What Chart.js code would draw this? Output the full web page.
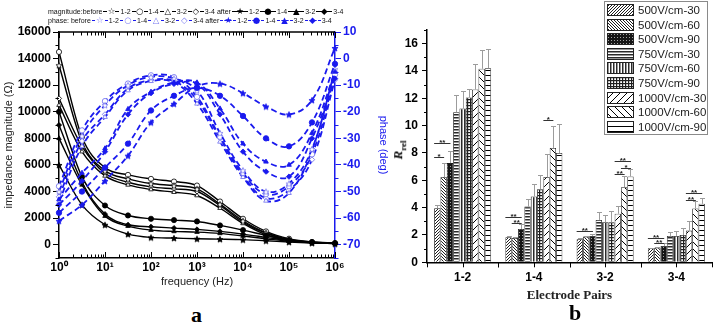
<!DOCTYPE html>
<html><head><meta charset="utf-8">
<script src="https://cdn.jsdelivr.net/npm/chart.js@4.4.1/dist/chart.umd.min.js"></script>
<style>
html,body{margin:0;padding:0;background:#fff}
body{position:relative;width:714px;height:324px;overflow:hidden;font-family:"Liberation Sans",Arial,sans-serif}
canvas{position:absolute}
#cA{left:0;top:0}
#cB{left:395px;top:0}
.lg{position:absolute;left:48px;font-size:7px;line-height:9px;white-space:nowrap;color:#111}
.s{display:inline-block;position:relative;width:16px;height:9px;vertical-align:top;margin:0 1px}
.s::before{content:'';position:absolute;left:0;right:0;top:4px;border-top:1px solid #000}
.s.p::before{border-top:1.4px dashed #1a1aee}
.s i{position:absolute;left:4px;width:8px;top:0;text-align:center;font-style:normal;font-size:8.5px;line-height:9px;font-family:"DejaVu Sans",sans-serif}
.big{position:absolute;font-family:"Liberation Serif","Times New Roman",serif;font-weight:bold;font-size:22px;line-height:22px}
#rrel{position:absolute;left:399px;top:150px;transform:translate(-50%,-50%) rotate(-90deg);font-family:"Liberation Serif",serif;font-size:13px;font-weight:bold;white-space:nowrap}
#legB{position:absolute;left:604px;top:1px;width:102px;height:132px;border:1px solid #8a8a8a;background:#fff}
#legB div{position:absolute;left:2px;height:13px;display:flex;align-items:center;font-size:11.5px;color:#222;white-space:nowrap}
#legB canvas{position:static;margin-right:4px}
</style></head>
<body>
<canvas id="cA" width="394" height="293"></canvas>
<canvas id="cB" width="319" height="307"></canvas>
<div class="lg" id="lg1" style="top:7px"></div>
<div class="lg" id="lg2" style="top:16px"></div>
<div class="big" style="left:191px;top:304px">a</div>
<div class="big" style="left:569px;top:302px">b</div>
<div id="rrel"><i>R</i><sub style="font-size:9px">rel</sub></div>
<div id="legB"></div>
<script>
// ---------- chart (a) data ----------
const freqHz = [1, 3.162, 10, 31.62, 100, 316.2, 1000, 3162, 10000, 31620, 100000, 316200, 1000000];
const decadeTicks = [1, 10, 100, 1000, 10000, 100000, 1000000];
const magTicks = [0, 2000, 4000, 6000, 8000, 10000, 12000, 14000, 16000];
const phaseTicks = [-70, -60, -50, -40, -30, -20, -10, 0, 10];

const magBefore12 = [13500, 7700, 5575, 4950, 4600, 4450, 4200, 3050, 1800, 900, 400, 180, 100];
const magBefore14 = [14500, 8100, 5800, 5250, 4950, 4750, 4450, 3250, 1950, 1000, 450, 200, 110];
const magBefore32 = [10500, 7000, 5175, 4500, 4150, 3950, 3700, 2750, 1600, 750, 300, 160, 90];
const magBefore34 = [11000, 7400, 5375, 4700, 4350, 4200, 4000, 2950, 1700, 850, 350, 170, 100];
const magAfter12 = [6000, 3000, 1500, 800, 550, 500, 450, 420, 380, 300, 200, 130, 90];
const magAfter14 = [10000, 5100, 2950, 2200, 1950, 1850, 1750, 1450, 1100, 700, 350, 200, 120];
const magAfter32 = [8000, 4500, 2150, 1400, 1100, 1000, 950, 850, 650, 450, 250, 150, 100];
const magAfter34 = [9000, 4700, 2300, 1500, 1350, 1250, 1150, 1000, 800, 550, 300, 180, 110];

const phBefore12 = [-50, -29, -17.5, -10, -6.9, -7.5, -12, -28, -42, -50, -47, -34, -4];
const phBefore14 = [-48, -27, -16, -9.4, -6.3, -7, -14.4, -29.4, -43, -51, -48, -36, -6];
const phBefore32 = [-54, -33, -22, -12, -8.5, -9, -17, -31.3, -44.6, -53.5, -50.6, -34.4, -4.4];
const phBefore34 = [-52, -31, -21, -11.3, -8.1, -8.5, -15.5, -30, -44, -52.5, -49.5, -38, -8];
const phAfter12 = [-61, -55, -46, -36.5, -24, -17, -10.5, -9.4, -13, -18, -21, -15.6, 4];
const phAfter14 = [-58, -50, -41, -32, -19.5, -14, -11, -14, -21.6, -30, -33, -24, -2];
const phAfter32 = [-53, -43, -33.8, -19, -12.5, -9, -9, -18.8, -32, -38.8, -40, -28, -5];
const phAfter34 = [-55, -46, -35, -21, -13, -9.5, -9.5, -21, -35, -42.5, -44.4, -30, -7.5];

// ---------- chart (b) data ----------
const pairs = ['1-2', '1-4', '3-2', '3-4'];
const conditions = ['500V/cm-30', '500V/cm-60', '500V/cm-90', '750V/cm-30', '750V/cm-60', '750V/cm-90', '1000V/cm-30', '1000V/cm-60', '1000V/cm-90'];
const rrel12 = [3.96, 6.24, 7.26, 10.98, 11.25, 12.06, 12.65, 14.16, 14.2];
const rrel14 = [1.83, 1.78, 2.44, 4.08, 4.82, 5.35, 6.24, 8.37, 8.0];
const rrel32 = [1.69, 1.88, 1.93, 3.1, 2.93, 2.93, 3.55, 5.5, 6.28];
const rrel34 = [1.03, 1.07, 1.2, 1.93, 1.93, 2.0, 2.32, 3.94, 4.28];
const sd12 = [0.24, 1.02, 0.86, 1.28, 1.27, 0.64, 1.83, 1.34, 1.4];
const sd14 = [0.07, 0.04, 0.35, 0.54, 0.92, 1.05, 1.66, 1.63, 2.15];
const sd32 = [0.06, 0.07, 0.15, 0.57, 0.54, 0.86, 0.58, 0.78, 0.54];
const sd34 = [0.05, 0.05, 0.19, 0.32, 0.37, 0.5, 0.71, 0.51, 0.42];
const rrelTicks = [0, 2, 4, 6, 8, 10, 12, 14, 16];
// significance brackets: pair index, first bar, last bar, level (R_rel), label
const sigPair  = [0, 0, 1, 1, 1, 2, 2, 2, 2, 3, 3, 3, 3];
const sigFrom  = [0, 0, 0, 1, 6, 0, 6, 7, 6, 0, 1, 6, 6];
const sigTo    = [1, 2, 2, 2, 7, 2, 8, 8, 7, 2, 2, 8, 7];
const sigLevel = [7.7, 8.7, 3.3, 2.9, 10.4, 2.3, 7.4, 6.9, 6.45, 1.8, 1.42, 5.1, 4.55];
const sigText  = ['*', '**', '**', '**', '*', '**', '**', '*', '**', '**', '**', '**', '**'];

// ---------- styling helpers ----------
const BLUE = '#1a1aee';
const BLUE_OPEN = '#7a7af0';
const SUP = ['\u2070', '\u00b9', '\u00b2', '\u00b3', '\u2074', '\u2075', '\u2076'];

function starCanvas(r, fill, stroke) {
  const s = Math.ceil(r * 2 + 3);
  const c = document.createElement('canvas'); c.width = c.height = s;
  const g = c.getContext('2d'); g.beginPath();
  for (let i = 0; i < 10; i++) {
    const a = -Math.PI / 2 + i * Math.PI / 5, rr = i % 2 ? r * 0.45 : r;
    g.lineTo(s / 2 + rr * Math.cos(a), s / 2 + rr * Math.sin(a) + 0.5);
  }
  g.closePath(); g.fillStyle = fill; g.fill(); g.lineWidth = 0.8; g.strokeStyle = stroke; g.stroke();
  return c;
}

function pts(values) { return freqHz.map((f, i) => ({ x: f, y: values[i] })); }

function magSet(label, values, style, filled) {
  return {
    label, data: pts(values), yAxisID: 'y', borderColor: '#000', borderWidth: 1.4,
    pointStyle: style === 'star' ? starCanvas(3.2, filled ? '#000' : '#fff', '#000') : style,
    pointRadius: 2.6, pointBackgroundColor: filled ? '#000' : '#fff', pointBorderColor: '#000', pointBorderWidth: 0.8,
    cubicInterpolationMode: 'monotone', fill: false, clip: false
  };
}
function phSet(label, values, style, filled) {
  const st = filled ? BLUE : BLUE_OPEN;
  return {
    label, data: pts(values), yAxisID: 'y1', borderColor: BLUE, borderWidth: 1.8, borderDash: [6, 3.5],
    pointStyle: style === 'star' ? starCanvas(3.2, filled ? BLUE : '#fff', st) : style,
    pointRadius: 2.7, pointBackgroundColor: filled ? BLUE : '#fff', pointBorderColor: st, pointBorderWidth: 0.9,
    tension: 0.4, fill: false, clip: false
  };
}

const frameA = {
  id: 'frameA',
  afterDraw(chart) {
    const { ctx, chartArea: a, scales } = chart; const x = scales.x, y = scales.y, y1 = scales.y1;
    ctx.save(); ctx.lineWidth = 1; ctx.strokeStyle = '#000'; ctx.beginPath();
    for (let e = 0; e <= 6; e++) {
      for (let k = 1; k <= 9; k++) {
        const v = k * Math.pow(10, e); if (v > 1e6) break;
        const p = Math.round(x.getPixelForValue(v)) + 0.5, L = k === 1 ? 6 : 3.5;
        ctx.moveTo(p, a.bottom); ctx.lineTo(p, a.bottom - L);
        ctx.moveTo(p, a.top); ctx.lineTo(p, a.top + L);
      }
    }
    for (let v = -1000; v <= 15000; v += 2000) {
      const p = Math.round(y.getPixelForValue(v)) + 0.5; ctx.moveTo(a.left, p); ctx.lineTo(a.left - 3.5, p);
    }
    ctx.stroke();
    ctx.lineWidth = 1.5; ctx.beginPath(); ctx.moveTo(a.left, a.top); ctx.lineTo(a.right, a.top); ctx.stroke();
    ctx.strokeStyle = BLUE; ctx.lineWidth = 1; ctx.beginPath();
    for (let v = -75; v <= 5; v += 10) {
      const p = Math.round(y1.getPixelForValue(v)) + 0.5; ctx.moveTo(a.right, p); ctx.lineTo(a.right + 3.5, p);
    }
    ctx.stroke(); ctx.restore();
  }
};

new Chart(document.getElementById('cA'), {
  type: 'line',
  data: {
    datasets: [
      phSet('phase after 1-2', phAfter12, 'star', true),
      phSet('phase after 1-4', phAfter14, 'circle', true),
      phSet('phase after 3-2', phAfter32, 'triangle', true),
      phSet('phase after 3-4', phAfter34, 'rectRot', true),
      phSet('phase before 1-2', phBefore12, 'star', false),
      phSet('phase before 1-4', phBefore14, 'circle', false),
      phSet('phase before 3-2', phBefore32, 'triangle', false),
      phSet('phase before 3-4', phBefore34, 'rectRot', false),
      magSet('magnitude after 1-2', magAfter12, 'star', true),
      magSet('magnitude after 1-4', magAfter14, 'circle', true),
      magSet('magnitude after 3-2', magAfter32, 'triangle', true),
      magSet('magnitude after 3-4', magAfter34, 'rectRot', true),
      magSet('magnitude before 1-2', magBefore12, 'star', false),
      magSet('magnitude before 1-4', magBefore14, 'circle', false),
      magSet('magnitude before 3-2', magBefore32, 'triangle', false),
      magSet('magnitude before 3-4', magBefore34, 'rectRot', false)
    ]
  },
  options: {
    responsive: false, animation: false, devicePixelRatio: 1,
    layout: { padding: { top: 32, left: 0, right: 0, bottom: 0 } },
    plugins: { legend: { display: false }, tooltip: { enabled: false } },
    scales: {
      x: {
        type: 'logarithmic', position: 'bottom', min: 1, max: 1e6,
        afterBuildTicks: s => { s.ticks = decadeTicks.map(v => ({ value: v })); },
        afterFit: s => { s.height = 35; },
        ticks: { autoSkip: false, maxRotation: 0, padding: 2, color: '#000', font: { size: 12, weight: 'bold' },
          callback: v => '10' + SUP[Math.round(Math.log10(v))] },
        grid: { display: false, drawTicks: false },
        border: { display: true, color: '#000', width: 1.5 },
        title: { display: true, text: 'frequency (Hz)', color: '#222', font: { size: 11 }, padding: { top: 0, bottom: 4 } }
      },
      y: {
        position: 'left', min: -1000, max: 16000,
        afterBuildTicks: s => { s.ticks = magTicks.map(v => ({ value: v })); },
        afterFit: s => { s.width = 59; },
        ticks: { padding: 2, color: '#000', font: { size: 12, weight: 'bold' }, callback: v => String(v) },
        grid: { drawOnChartArea: false, drawTicks: true, tickLength: 6, color: '#000' },
        border: { display: true, color: '#000', width: 1.5 },
        title: { display: true, text: 'impedance magnitude (\u03a9)', color: '#222', font: { size: 11 }, padding: { top: 2, bottom: 0 } }
      },
      y1: {
        position: 'right', min: -75, max: 10,
        afterBuildTicks: s => { s.ticks = phaseTicks.map(v => ({ value: v })); },
        afterFit: s => { s.width = 59; },
        ticks: { padding: 2, color: BLUE, font: { size: 12, weight: 'bold' }, callback: v => String(v) },
        grid: { drawOnChartArea: false, drawTicks: true, tickLength: 6, color: BLUE },
        border: { display: true, color: BLUE, width: 1.5 },
        title: { display: true, text: 'phase (deg)', color: BLUE, font: { size: 11 }, padding: { top: 4, bottom: 0 } }
      }
    }
  },
  plugins: [frameA]
});

// legend (a)
(function () {
  const open = ['\u2606', '\u25cb', '\u25b3', '\u25c7'], full = ['\u2605', '\u25cf', '\u25b2', '\u25c6'];
  const names = ['1-2', '1-4', '3-2', '3-4'];
  function row(title, isPhase) {
    let h = title;
    const cls = isPhase ? 's p' : 's';
    const oc = isPhase ? BLUE_OPEN : '#000', fc = isPhase ? BLUE : '#000';
    names.forEach((n, i) => { h += `<span class="${cls}"><i style="color:${oc};background:#fff">${open[i]}</i></span>${n}`; });
    h += ' after';
    names.forEach((n, i) => { h += `<span class="${cls}"><i style="color:${fc}">${full[i]}</i></span>${n}`; });
    return h;
  }
  document.getElementById('lg1').innerHTML = row('magnitude:before', false);
  document.getElementById('lg2').innerHTML = row('phase: before', true);
})();

// ---------- chart (b) ----------
function tile(size, draw) {
  const c = document.createElement('canvas'); c.width = c.height = size;
  const g = c.getContext('2d'); g.fillStyle = '#fff'; g.fillRect(0, 0, size, size); draw(g, size); return c;
}
function diag(g, s, col, back) {
  g.strokeStyle = col; g.lineWidth = 1; g.beginPath();
  if (!back) { g.moveTo(-1, s + 1); g.lineTo(s + 1, -1); g.moveTo(-1, 1); g.lineTo(1, -1); g.moveTo(s - 1, s + 1); g.lineTo(s + 1, s - 1); }
  else { g.moveTo(-1, -1); g.lineTo(s + 1, s + 1); g.moveTo(s - 1, -1); g.lineTo(s + 1, 1); g.moveTo(-1, s - 1); g.lineTo(1, s + 1); }
  g.stroke();
}
const tiles = [
  tile(3, (g, s) => diag(g, s, '#1e1e1e', false)),
  tile(3, (g, s) => diag(g, s, '#1e1e1e', true)),
  tile(3, (g, s) => { g.fillStyle = '#151515'; g.fillRect(0, 0, s, s); g.fillStyle = '#a0a0a0'; g.fillRect(1, 1, 1, 1); }),
  tile(3, (g, s) => { g.fillStyle = '#2a2a2a'; g.fillRect(0, 0, s, 1.5); }),
  tile(3, (g, s) => { g.fillStyle = '#2a2a2a'; g.fillRect(0, 0, 1.5, s); }),
  tile(3, (g, s) => { g.fillStyle = '#1e1e1e'; g.fillRect(0, 0, s, 1.2); g.fillRect(0, 0, 1.2, s); }),
  tile(7, (g, s) => diag(g, s, '#000', false)),
  tile(7, (g, s) => diag(g, s, '#000', true)),
  tile(5, (g, s) => { g.fillStyle = '#000'; g.fillRect(0, 0, s, 1); })
];
const ctxB = document.getElementById('cB').getContext('2d');
const patterns = tiles.map(t => ctxB.createPattern(t, 'repeat'));
const meanTable = [rrel12, rrel14, rrel32, rrel34];
const sdTable = [sd12, sd14, sd32, sd34];

const extrasB = {
  id: 'extrasB',
  afterDatasetsDraw(chart) {
    const { ctx, scales: { y } } = chart;
    ctx.save();
    ctx.strokeStyle = '#9c9c9c'; ctx.lineWidth = 1; ctx.beginPath();
    chart.data.datasets.forEach((ds, k) => {
      chart.getDatasetMeta(k).data.forEach((bar, i) => {
        const m = meanTable[i][k], e = sdTable[i][k];
        const px = Math.round(bar.x) + 0.5, y0 = y.getPixelForValue(m), y1 = Math.round(y.getPixelForValue(m + e)) + 0.5;
        ctx.moveTo(px, y0); ctx.lineTo(px, y1); ctx.moveTo(px - 2.5, y1); ctx.lineTo(px + 2.5, y1);
      });
    });
    ctx.stroke();
    ctx.strokeStyle = '#333'; ctx.fillStyle = '#222'; ctx.lineWidth = 1;
    ctx.font = 'bold 8px "Liberation Sans", Arial, sans-serif'; ctx.textAlign = 'center'; ctx.textBaseline = 'alphabetic';
    sigPair.forEach((p, j) => {
      const b1 = chart.getDatasetMeta(sigFrom[j]).data[p], b2 = chart.getDatasetMeta(sigTo[j]).data[p];
      const x1 = b1.x - b1.width / 2, x2 = b2.x + 0.5, py = Math.round(y.getPixelForValue(sigLevel[j])) + 0.5;
      ctx.beginPath(); ctx.moveTo(x1, py); ctx.lineTo(x2, py); ctx.stroke();
      ctx.fillText(sigText[j], (x1 + x2) / 2, py + 1);
    });
    ctx.restore();
  },
  afterDraw(chart) {
    const { ctx, chartArea: a, scales: { x, y } } = chart;
    ctx.save(); ctx.strokeStyle = '#000'; ctx.lineWidth = 1; ctx.beginPath();
    for (let v = 1; v <= 17; v += 2) { const p = Math.round(y.getPixelForValue(v)) + 0.5; ctx.moveTo(a.left, p); ctx.lineTo(a.left - 3, p); }
    for (let i = 0; i < pairs.length; i++) {
      const c = x.getPixelForValue(i), half = (x.getPixelForValue(1) - x.getPixelForValue(0)) / 2;
      [c - half, c, c + half].forEach(v => { const p = Math.round(v) + 0.5; ctx.moveTo(p, a.bottom); ctx.lineTo(p, a.bottom + 5); });
    }
    ctx.stroke(); ctx.restore();
  }
};

new Chart(document.getElementById('cB'), {
  type: 'bar',
  data: {
    labels: pairs,
    datasets: conditions.map((c, k) => ({
      label: c, data: meanTable.map(arr => arr[k]), backgroundColor: patterns[k],
      borderColor: '#1a1a1a', borderWidth: 0.8, categoryPercentage: 0.8, barPercentage: 1.0
    }))
  },
  options: {
    responsive: false, animation: false, devicePixelRatio: 1,
    layout: { padding: { top: 30, right: 2, left: 0, bottom: 0 } },
    plugins: { legend: { display: false }, tooltip: { enabled: false } },
    scales: {
      x: {
        afterFit: s => { s.height = 44.7; },
        ticks: { padding: 8, color: '#000', font: { size: 12, weight: 'bold' } },
        grid: { display: false, drawTicks: false },
        border: { display: true, color: '#000', width: 1.5 },
        title: { display: true, text: 'Electrode Pairs', color: '#222', font: { family: '"Liberation Serif", "Times New Roman", serif', size: 13, weight: 'bold' }, padding: { top: 0, bottom: 4 } }
      },
      y: {
        min: 0, max: 17,
        afterBuildTicks: s => { s.ticks = rrelTicks.map(v => ({ value: v })); },
        afterFit: s => { s.width = 32; },
        ticks: { padding: 4, color: '#000', font: { size: 12, weight: 'bold' } },
        grid: { drawOnChartArea: false, drawTicks: true, tickLength: 5, color: '#000' },
        border: { display: true, color: '#000', width: 1.5 }
      }
    }
  },
  plugins: [extrasB]
});

// legend (b)
(function () {
  const box = document.getElementById('legB');
  conditions.forEach((c, k) => {
    const d = document.createElement('div'); d.style.top = (1.5 + k * 14.6) + 'px';
    const sw = document.createElement('canvas'); sw.width = 27; sw.height = 12;
    const g = sw.getContext('2d'); g.fillStyle = g.createPattern(tiles[k], 'repeat'); g.fillRect(0, 0, 27, 12);
    g.strokeStyle = '#222'; g.lineWidth = 1; g.strokeRect(0.5, 0.5, 26, 11);
    d.appendChild(sw); d.appendChild(document.createTextNode(c)); box.appendChild(d);
  });
})();
</script>
</body></html>
